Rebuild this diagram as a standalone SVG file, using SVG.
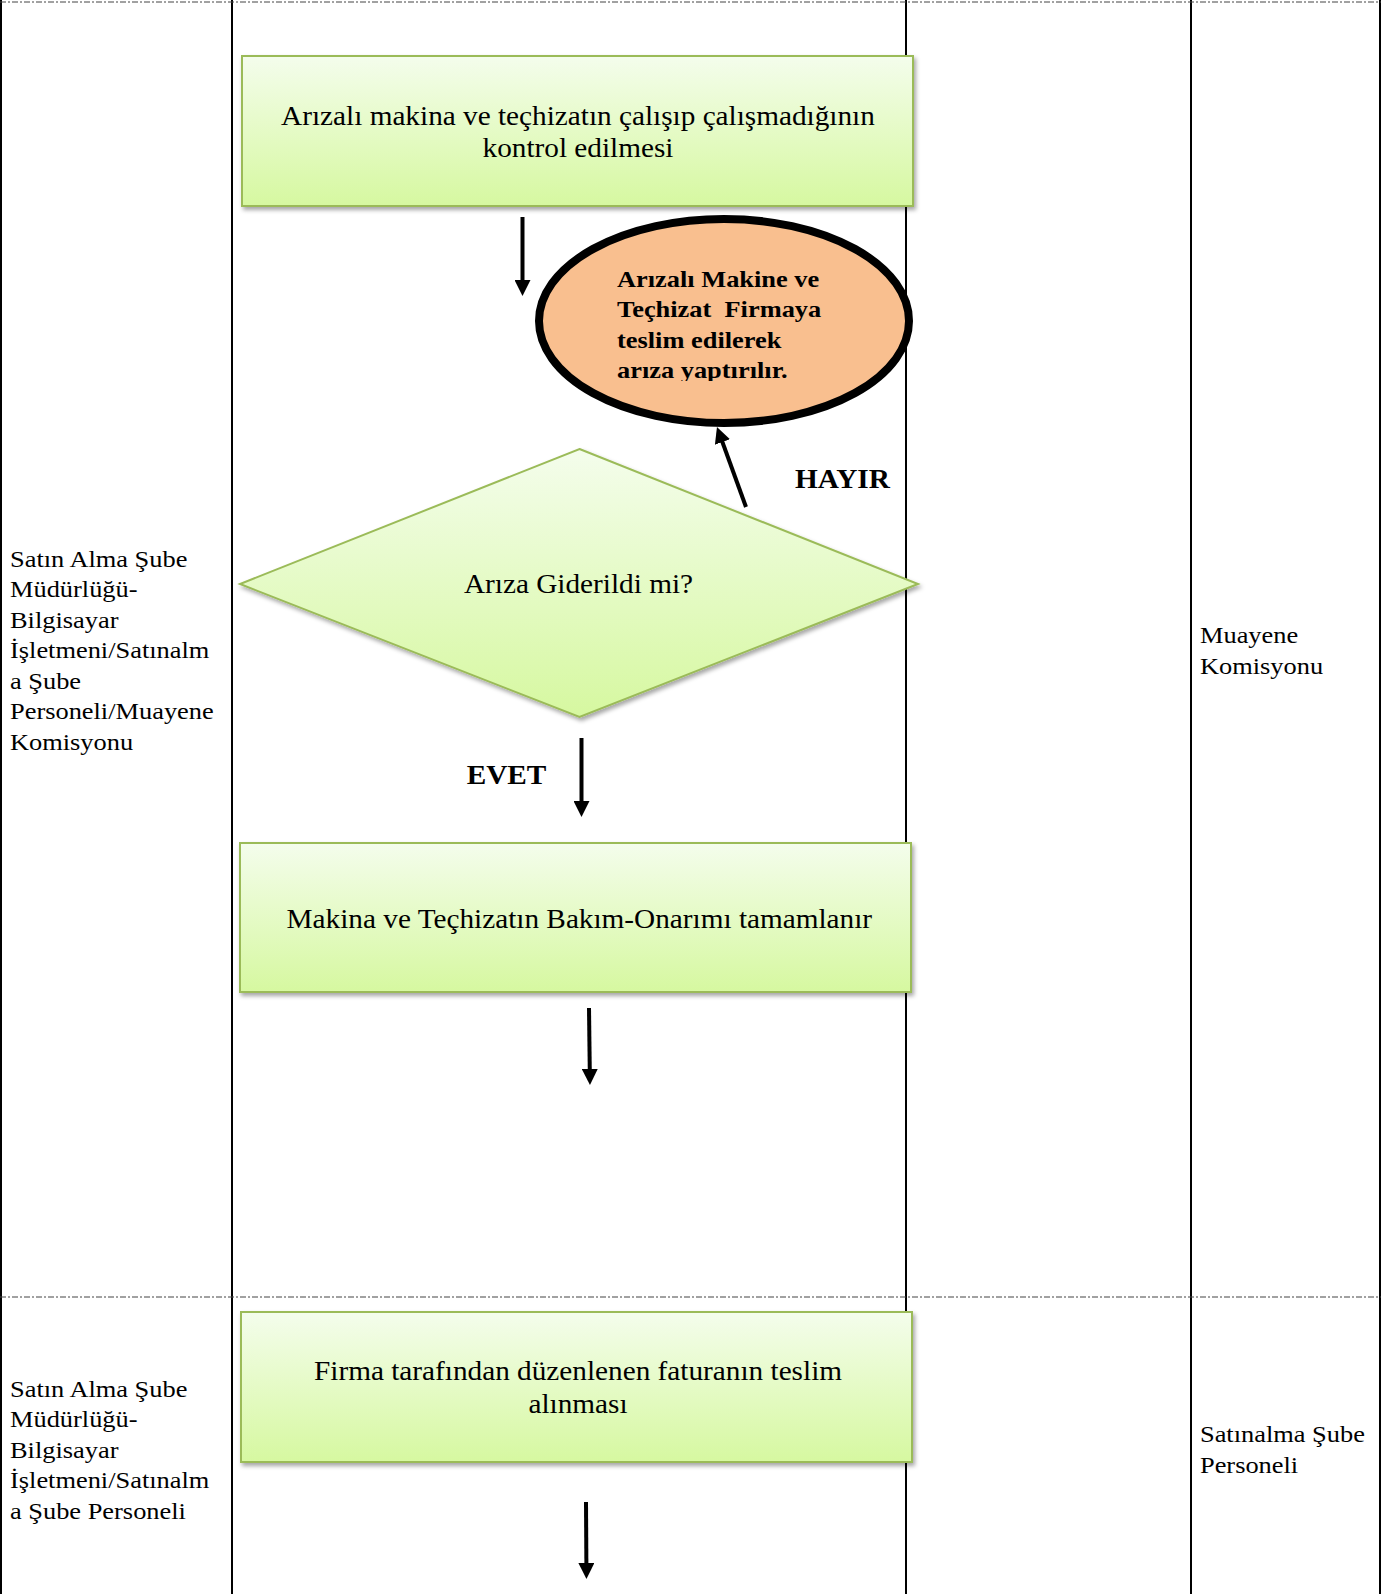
<svg xmlns="http://www.w3.org/2000/svg" width="1389" height="1594" viewBox="0 0 1389 1594">
<style>
.lane{stroke:#000;stroke-width:2;fill:none}
.dash{stroke:#444;stroke-width:1;stroke-dasharray:6 2 2 2;fill:none}
.box{fill:url(#gg);stroke:#9bbb59;stroke-width:2;filter:url(#sh)}
.t{font-family:"Liberation Serif","Times New Roman",serif;fill:#000}
.lt{font-size:24px}
.bt{font-size:26.6px;text-anchor:middle}
.bold{font-weight:bold}
.arr{stroke:#000;stroke-width:4;fill:none;marker-end:url(#ah)}
</style>
<defs>
<linearGradient id="gg" x1="0" y1="0" x2="0" y2="1">
<stop offset="0" stop-color="#f4fdec"/>
<stop offset="1" stop-color="#d6f8a0"/>
</linearGradient>
<filter id="sh" x="-5%" y="-10%" width="115%" height="130%">
<feDropShadow dx="2" dy="3" stdDeviation="2" flood-color="#000" flood-opacity="0.35"/>
</filter>
<marker id="ah" viewBox="0 0 16 16" refX="3" refY="8" markerWidth="16" markerHeight="16" markerUnits="userSpaceOnUse" orient="auto">
<path d="M0,0 L16,8 L0,16 z" fill="#000"/>
</marker>
<clipPath id="ec"><rect x="600" y="250" width="250" height="131"/></clipPath>
</defs>
<rect width="1389" height="1594" fill="#fff"/>
<g id="lanes">
<line class="lane" x1="1" y1="0" x2="1" y2="1594"/>
<line class="lane" x1="232" y1="0" x2="232" y2="1594"/>
<line class="lane" x1="906" y1="0" x2="906" y2="1594"/>
<line class="lane" x1="1191" y1="0" x2="1191" y2="1594"/>
<line class="lane" x1="1380" y1="0" x2="1380" y2="1594"/>
<line class="dash" x1="0" y1="2" x2="1381" y2="2"/>
<line class="dash" x1="0" y1="1297" x2="1381" y2="1297"/>
</g>
<g id="lane-label-top-left" class="t lt">
<text transform="scale(1.1,1)" x="9.09" y="566.7">Satın Alma Şube</text>
<text transform="scale(1.1,1)" x="9.09" y="597.2">Müdürlüğü-</text>
<text transform="scale(1.1,1)" x="9.09" y="627.8">Bilgisayar</text>
<text transform="scale(1.1,1)" x="9.09" y="658.3">İşletmeni/Satınalm</text>
<text transform="scale(1.1,1)" x="9.09" y="688.9">a Şube</text>
<text transform="scale(1.1,1)" x="9.09" y="719.4">Personeli/Muayene</text>
<text transform="scale(1.1,1)" x="9.09" y="750">Komisyonu</text>
</g>
<g id="lane-label-top-right" class="t lt">
<text transform="scale(1.1,1)" x="1090.9" y="643.3">Muayene</text>
<text transform="scale(1.1,1)" x="1090.9" y="673.8">Komisyonu</text>
</g>
<g id="lane-label-bottom-left" class="t lt">
<text transform="scale(1.1,1)" x="9.09" y="1396.7">Satın Alma Şube</text>
<text transform="scale(1.1,1)" x="9.09" y="1427.2">Müdürlüğü-</text>
<text transform="scale(1.1,1)" x="9.09" y="1457.7">Bilgisayar</text>
<text transform="scale(1.1,1)" x="9.09" y="1488.2">İşletmeni/Satınalm</text>
<text transform="scale(1.1,1)" x="9.09" y="1518.7">a Şube Personeli</text>
</g>
<g id="lane-label-bottom-right" class="t lt">
<text transform="scale(1.1,1)" x="1090.9" y="1442.3">Satınalma Şube</text>
<text transform="scale(1.1,1)" x="1090.9" y="1472.8">Personeli</text>
</g>
<g id="node-kontrol">
<rect class="box" x="242" y="56" width="671" height="150"/>
<text class="t bt" transform="scale(1.1,1)" x="525.45" y="125">Arızalı makina ve teçhizatın çalışıp çalışmadığının</text>
<text class="t bt" transform="scale(1.1,1)" x="525.45" y="157">kontrol edilmesi</text>
</g>
<g id="node-firma">
<ellipse cx="724" cy="321" rx="185" ry="102" fill="#f9bf8f" stroke="#000" stroke-width="8"/>
<g clip-path="url(#ec)" class="t bold" font-size="24">
<text transform="scale(1.1,1)" x="560.9" y="287">Arızalı Makine ve</text>
<text transform="scale(1.1,1)" x="560.9" y="317.3" xml:space="preserve">Teçhizat  Firmaya</text>
<text transform="scale(1.1,1)" x="560.9" y="347.6">teslim edilerek</text>
<text transform="scale(1.1,1)" x="560.9" y="377.9">arıza yaptırılır.</text>
</g>
</g>
<g id="node-karar">
<polygon class="box" points="579.5,449 918,584 579.5,717 240,584"/>
<text class="t bt" transform="scale(1.1,1)" x="525.9" y="593">Arıza Giderildi mi?</text>
</g>
<g id="node-bakim">
<rect class="box" x="240" y="843" width="671" height="149"/>
<text class="t bt" transform="scale(1.1,1)" x="526.7" y="928.3">Makina ve Teçhizatın Bakım-Onarımı tamamlanır</text>
</g>
<g id="node-fatura">
<rect class="box" x="241" y="1312" width="671" height="150"/>
<text class="t bt" transform="scale(1.1,1)" x="525.5" y="1380">Firma tarafından düzenlenen faturanın teslim</text>
<text class="t bt" transform="scale(1.1,1)" x="525.5" y="1413.5">alınması</text>
</g>
<g id="connectors">
<line class="arr" x1="522.5" y1="217" x2="522.5" y2="283"/>
<line class="arr" x1="746" y1="507" x2="721.4" y2="439.2"/>
<line class="arr" x1="581.5" y1="738" x2="581.5" y2="804"/>
<line class="arr" x1="589" y1="1008" x2="589.8" y2="1072"/>
<line class="arr" x1="586" y1="1502" x2="586.4" y2="1566"/>
<text class="t bold" font-size="26.6" transform="scale(1.1,1)" x="722.7" y="488">HAYIR</text>
<text class="t bold" font-size="26.6" transform="scale(1.1,1)" x="424.3" y="784">EVET</text>
</g>
</svg>
